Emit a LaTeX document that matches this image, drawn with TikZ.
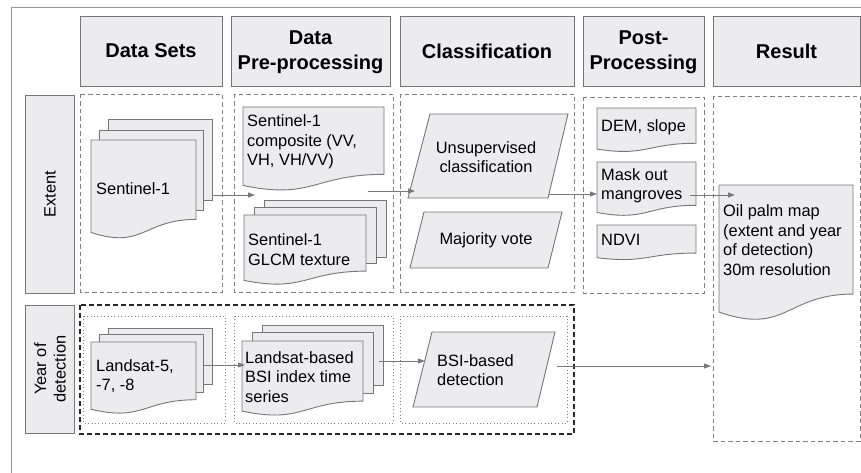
\documentclass[tikz,border=0pt]{standalone}
\usepackage{fontspec}
\setmainfont{Liberation Sans}
\usetikzlibrary{arrows.meta}
\definecolor{boxfill}{RGB}{236,236,238}
\definecolor{edgegray}{RGB}{118,118,118}
\definecolor{dashgray}{RGB}{128,128,128}
\definecolor{arrowgray}{RGB}{120,120,120}
\definecolor{framegray}{RGB}{150,150,150}

% document shape: x0 y0 (top left), width, height
\newcommand\docshape[4]{%
  \draw[shapest] (#1,#2) -- (#1+#3,#2) -- (#1+#3,#2+0.802*#4)
    .. controls (#1+0.5*#3,#2+0.802*#4) and (#1+0.5*#3,#2+1.1075*#4) ..
    (#1,#2+0.934*#4) -- cycle;}

\tikzset{
  shapest/.style={draw=edgegray, fill=boxfill, line width=0.9pt},
  hdrbox/.style={draw=edgegray, fill=boxfill, line width=0.9pt},
  colbox/.style={draw=dashgray, line width=0.8pt, dash pattern=on 4.5pt off 3pt},
  yearbox/.style={draw=black!85, line width=1.1pt, dash pattern=on 5pt off 3pt},
  dotbox/.style={draw=dashgray, line width=0.8pt, dash pattern=on 0.8pt off 2.6pt},
  hdr/.style={font=\fontsize{20}{25}\bfseries\selectfont, align=center, inner sep=0pt},
  body/.style={font=\fontsize{16.4}{19.5}\selectfont, align=left, inner sep=0pt, anchor=west},
  bodyc/.style={font=\fontsize{16.4}{19.5}\selectfont, align=center, inner sep=0pt},
  flow/.style={draw=arrowgray, line width=0.9pt, -{Triangle[length=7pt,width=5pt]}},
}

\begin{document}
\begin{tikzpicture}[x=1pt,y=-1pt]
\useasboundingbox (0,0) rectangle (861,473);

% outer frame (top and left edges)
\draw[framegray, line width=1pt] (861,8) -- (11,8) -- (11,473);

% column headers
\draw[hdrbox] (80,16) rectangle (222,86);
\draw[hdrbox] (231,16) rectangle (390,86);
\draw[hdrbox] (400,16) rectangle (574,86);
\draw[hdrbox] (583,16) rectangle (704,86);
\draw[hdrbox] (713,16) rectangle (860,86);
\node[hdr] (hsets) at (151,51) {Data Sets};
\node[hdr] (hpre) at (310.5,52) {Data\\Pre-processing};
\node[hdr] (hcls) at (487,51) {Classification};
\node[hdr] (hpost) at (643.5,52) {Post-\\Processing};
\node[hdr] (hres) at (786.5,51) {Result};

% row labels
\draw[hdrbox] (25,95) rectangle (74,293);
\draw[hdrbox] (25,305) rectangle (74,433);
\node[bodyc, rotate=90, anchor=center] (rext) at (50,194) {Extent};
\node[bodyc, rotate=90, anchor=center] (ryear) at (50,369) {Year of\\detection};

% extent row columns
\draw[colbox] (80,94) rectangle (222,292);
\draw[colbox] (234,94) rectangle (393,292);
\draw[colbox] (400,94) rectangle (574,292);
\draw[colbox] (583,97) rectangle (704,293);
\draw[colbox] (713,96) rectangle (860,441);

% year-of-detection row
\draw[yearbox] (80,305) rectangle (574,434);
\draw[dotbox] (83,316) rectangle (225,423);
\draw[dotbox] (234,316) rectangle (393,423);
\draw[dotbox] (400,316) rectangle (567,423);

% Sentinel-1 stack
\draw[shapest] (108,119) rectangle (212,200);
\draw[shapest] (99,130) rectangle (203,210);
\docshape{91}{140}{105}{99}
\node[body] (s1) at (96,189) {Sentinel-1};

% Sentinel-1 composite
\docshape{243}{107}{141}{84}
\node[body] (comp) at (247,142) {Sentinel-1\\composite (VV,\\VH, VH/VV)};

% GLCM stack
\draw[shapest] (264,200) rectangle (386,257);
\draw[shapest] (254,207) rectangle (376,263);
\docshape{244}{215}{122}{70}
\node[body] (glcm) at (248,249.5) {Sentinel-1\\GLCM texture};

% classification
\draw[shapest] (430,114) -- (568,114) -- (548,198) -- (408,198) -- cycle;
\node[bodyc] (unsup) at (486,157) {Unsupervised\\classification};
\draw[shapest] (424,212) -- (562,212) -- (548,268) -- (410,268) -- cycle;
\node[bodyc] (major) at (486,240) {Majority vote};

% post-processing
\docshape{597}{108}{99}{44}
\node[body] (dem) at (601,127) {DEM, slope};
\docshape{597}{162}{99}{54}
\node[body] (mask) at (601,186) {Mask out\\mangroves};
\docshape{597}{225}{99}{35}
\node[body] (ndvi) at (601,240) {NDVI};

% result
\docshape{719}{185}{134}{136}
\node[body] (oil) at (723,240) {Oil palm map\\(extent and year\\of detection)\\30m resolution};

% Landsat stack
\draw[shapest] (108,328) rectangle (212,384);
\draw[shapest] (99,334) rectangle (203,392);
\docshape{91}{342}{105}{72}
\node[body] (lsat) at (96,376) {Landsat-5,\\-7, -8};

% Landsat BSI stack
\draw[shapest] (262,325) rectangle (383,385);
\draw[shapest] (252,332) rectangle (373,393);
\docshape{242}{341}{121}{75}
\node[body] (bsits) at (245,377) {Landsat-based\\BSI index time\\series};

% BSI-based detection
\draw[shapest] (432,332) -- (555,332) -- (537,407) -- (413,407) -- cycle;
\node[body] (bsidet) at (437,370) {BSI-based\\detection};

% connector end points
\coordinate (s1out) at (212,195);
\coordinate (prein) at (255,195);
\coordinate (preout) at (368,191);
\coordinate (unsin) at (415,191);
\coordinate (unsout) at (549,194);
\coordinate (maskin) at (597,194);
\coordinate (maskout) at (690,195);
\coordinate (oilin) at (735,195);
\coordinate (lsout) at (204,365);
\coordinate (tsin) at (245,365);
\coordinate (tsout) at (379,361);
\coordinate (detin) at (425,361);
\coordinate (detout) at (557,366);
\coordinate (resin) at (711,366);

% connectors
\draw[flow] (s1out) -- (prein);
\draw[flow] (preout) -- (unsin);
\draw[flow] (unsout) -- (maskin);
\draw[flow] (maskout) -- (oilin);
\draw[flow] (lsout) -- (tsin);
\draw[flow] (tsout) -- (detin);
\draw[flow] (detout) -- (resin);
\end{tikzpicture}
\end{document}
